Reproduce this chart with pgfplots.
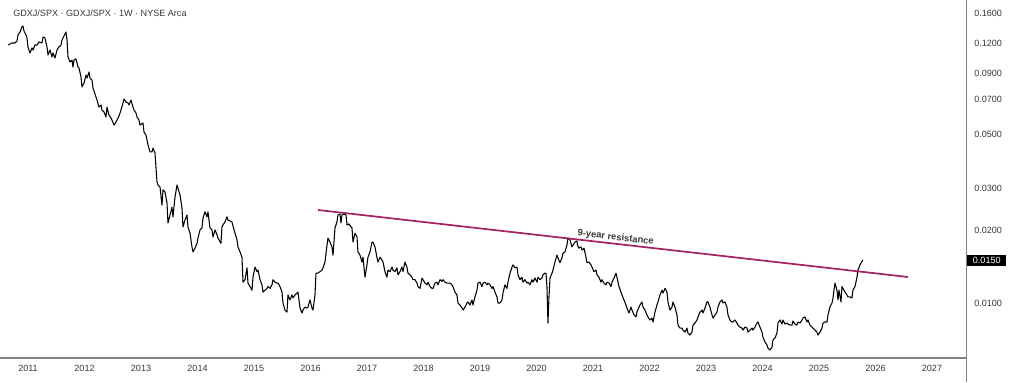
\documentclass[border=0pt]{standalone}
\usepackage{fontspec}
\setmainfont{Liberation Sans}
\usepackage{pgfplots}
\pgfplotsset{compat=1.18}
\definecolor{res}{RGB}{165,35,100}
\definecolor{txt}{RGB}{55,55,55}
\definecolor{axl}{RGB}{130,130,130}
\begin{document}
\begin{tikzpicture}
\begin{axis}[
  at={(0pt,18pt)}, anchor=south west,
  scale only axis, width=724.5pt, height=268.5pt,
  xmin=2010.504, xmax=2027.602,
  ymode=log, ymin=0.005911, ymax=0.18116,
  axis line style={draw=none},
  xtick={2011,2012,2013,2014,2015,2016,2017,2018,2019,2020,2021,2022,2023,2024,2025,2026,2027},
  xticklabels={2011,2012,2013,2014,2015,2016,2017,2018,2019,2020,2021,2022,2023,2024,2025,2026,2027},
  ytick={0.01,0.02,0.03,0.05,0.07,0.09,0.12,0.16},
  yticklabels={0.0100,0.0200,0.0300,0.0500,0.0700,0.0900,0.1200,0.1600},
  yticklabel pos=right,
  major tick length=0pt, minor tick length=0pt,
  /pgf/number format/assume math mode=true,
  tick label style={font=\fontsize{6.8}{8}\selectfont, text=txt},
  yticklabel style={anchor=west, inner sep=0pt, xshift=6pt},
  xticklabel style={anchor=north, inner sep=0pt, yshift=-5pt},
  clip=false,
]
\addplot[black, line width=0.8pt, line join=round] coordinates {
(2010.646,0.1178)(2010.716,0.1201)(2010.769,0.1201)(2010.805,0.1224)(2010.823,0.1297)(2010.858,0.1334)(2010.893,0.1400)(2010.911,0.1413)(2010.929,0.1347)(2010.964,0.1297)(2010.982,0.1260)(2010.999,0.1156)
(2011.035,0.1092)(2011.070,0.1145)(2011.088,0.1123)(2011.123,0.1178)(2011.159,0.1178)(2011.194,0.1213)(2011.247,0.1201)(2011.265,0.1272)(2011.300,0.1260)(2011.336,0.1156)(2011.354,0.1071)(2011.389,0.1123)(2011.424,0.1051)(2011.442,0.1092)(2011.477,0.1041)(2011.513,0.1123)(2011.548,0.1156)(2011.584,0.1178)(2011.601,0.1236)(2011.637,0.1285)(2011.672,0.1334)(2011.690,0.1236)(2011.708,0.1051)(2011.743,0.1001)(2011.778,0.1021)(2011.796,0.0955)(2011.814,0.1021)(2011.849,0.1031)(2011.885,0.0955)(2011.902,0.0946)(2011.938,0.0868)(2011.955,0.0789)(2011.991,0.0819)
(2012.026,0.0884)(2012.044,0.0859)(2012.079,0.0910)(2012.097,0.0859)(2012.132,0.0843)(2012.150,0.0781)(2012.203,0.0717)(2012.221,0.0696)(2012.256,0.0651)(2012.292,0.0664)(2012.309,0.0633)(2012.345,0.0621)(2012.380,0.0592)(2012.398,0.0651)(2012.433,0.0603)(2012.468,0.0586)(2012.486,0.0575)(2012.522,0.0548)(2012.557,0.0564)(2012.575,0.0575)(2012.610,0.0598)(2012.646,0.0633)(2012.681,0.0677)(2012.699,0.0703)(2012.734,0.0683)(2012.769,0.0677)(2012.787,0.0664)(2012.823,0.0696)(2012.858,0.0651)(2012.876,0.0633)(2012.911,0.0615)(2012.929,0.0592)(2012.964,0.0575)(2012.982,0.0548)
(2013.035,0.0559)(2013.053,0.0513)(2013.088,0.0498)(2013.124,0.0453)(2013.159,0.0424)(2013.194,0.0424)(2013.212,0.0440)(2013.247,0.0420)(2013.283,0.0318)(2013.300,0.0309)(2013.336,0.0303)(2013.371,0.0255)(2013.389,0.0295)(2013.424,0.0289)(2013.460,0.0260)(2013.477,0.0215)(2013.513,0.0232)(2013.548,0.0250)(2013.566,0.0228)(2013.601,0.0275)(2013.637,0.0309)(2013.654,0.0300)(2013.690,0.0281)(2013.725,0.0248)(2013.743,0.0207)(2013.778,0.0221)(2013.814,0.0232)(2013.831,0.0207)(2013.867,0.0195)(2013.902,0.0171)(2013.920,0.0163)(2013.955,0.0169)(2013.991,0.0177)
(2014.008,0.0186)(2014.044,0.0201)(2014.079,0.0205)(2014.097,0.0225)(2014.132,0.0239)(2014.168,0.0228)(2014.185,0.0239)(2014.221,0.0205)(2014.256,0.0201)(2014.274,0.0188)(2014.309,0.0201)(2014.345,0.0192)(2014.362,0.0186)(2014.415,0.0177)(2014.433,0.0207)(2014.451,0.0211)(2014.486,0.0217)(2014.522,0.0228)(2014.539,0.0221)(2014.575,0.0219)(2014.610,0.0217)(2014.628,0.0209)(2014.663,0.0195)(2014.699,0.0183)(2014.716,0.0171)(2014.752,0.0163)(2014.787,0.0155)(2014.805,0.0122)(2014.840,0.0125)(2014.876,0.0140)(2014.893,0.0121)(2014.929,0.0117)(2014.964,0.0113)(2014.982,0.0128)
(2015.017,0.0141)(2015.053,0.0135)(2015.071,0.0137)(2015.106,0.0125)(2015.141,0.0119)(2015.159,0.0111)(2015.194,0.0113)(2015.230,0.0115)(2015.248,0.0117)(2015.283,0.0115)(2015.318,0.0119)(2015.336,0.0125)(2015.371,0.0122)(2015.407,0.0121)(2015.424,0.0121)(2015.460,0.0117)(2015.495,0.0111)(2015.513,0.0100)(2015.548,0.00935)(2015.584,0.00917)(2015.601,0.0108)(2015.637,0.0103)(2015.672,0.0108)(2015.690,0.0105)(2015.725,0.0108)(2015.761,0.0110)(2015.778,0.0111)(2015.814,0.00953)(2015.849,0.00909)(2015.867,0.00935)(2015.902,0.00962)(2015.937,0.00953)(2015.955,0.00962)(2015.991,0.0103)
(2016.026,0.00953)(2016.044,0.00935)(2016.079,0.0108)(2016.097,0.0133)(2016.132,0.0133)(2016.168,0.0135)(2016.203,0.0137)(2016.221,0.0140)(2016.256,0.0148)(2016.292,0.0174)(2016.309,0.0186)(2016.345,0.0179)(2016.380,0.0171)(2016.398,0.0158)(2016.415,0.0179)(2016.433,0.0205)(2016.468,0.0217)(2016.486,0.0232)(2016.522,0.0234)(2016.539,0.0215)(2016.557,0.0232)(2016.592,0.0234)(2016.628,0.0232)(2016.646,0.0211)(2016.681,0.0213)(2016.716,0.0207)(2016.734,0.0205)(2016.752,0.0179)(2016.787,0.0195)(2016.823,0.0188)(2016.840,0.0163)(2016.876,0.0158)(2016.911,0.0148)(2016.929,0.0155)(2016.964,0.0128)(2016.999,0.0144)
(2017.017,0.0155)(2017.053,0.0163)(2017.088,0.0179)(2017.106,0.0179)(2017.141,0.0171)(2017.177,0.0154)(2017.194,0.0148)(2017.230,0.0155)(2017.265,0.0151)(2017.283,0.0148)(2017.318,0.0135)(2017.353,0.0128)(2017.371,0.0137)(2017.407,0.0135)(2017.442,0.0141)(2017.460,0.0137)(2017.495,0.0135)(2017.530,0.0140)(2017.548,0.0131)(2017.584,0.0135)(2017.619,0.0141)(2017.637,0.0135)(2017.672,0.0148)(2017.707,0.0141)(2017.725,0.0133)(2017.761,0.0131)(2017.796,0.0128)(2017.814,0.0125)(2017.849,0.0125)(2017.884,0.0121)(2017.902,0.0117)(2017.937,0.0115)(2017.973,0.0127)(2017.991,0.0125)
(2018.026,0.0121)(2018.061,0.0119)(2018.079,0.0122)(2018.115,0.0117)(2018.150,0.0115)(2018.168,0.0115)(2018.203,0.0121)(2018.238,0.0122)(2018.256,0.0119)(2018.292,0.0125)(2018.327,0.0123)(2018.345,0.0125)(2018.380,0.0122)(2018.415,0.0121)(2018.433,0.0121)(2018.469,0.0121)(2018.504,0.0119)(2018.522,0.0117)(2018.557,0.0111)(2018.592,0.0108)(2018.610,0.0100)(2018.645,0.00981)(2018.681,0.00953)(2018.699,0.00935)(2018.734,0.00962)(2018.769,0.0100)(2018.787,0.0101)(2018.822,0.00981)(2018.858,0.0103)(2018.876,0.00981)(2018.911,0.0106)(2018.946,0.0113)(2018.964,0.0121)(2018.999,0.0122)
(2019.035,0.0117)(2019.053,0.0121)(2019.088,0.0122)(2019.124,0.0119)(2019.141,0.0121)(2019.177,0.0119)(2019.212,0.0115)(2019.230,0.0117)(2019.265,0.0111)(2019.300,0.0106)(2019.318,0.0100)(2019.354,0.0100)(2019.389,0.0103)(2019.407,0.0110)(2019.442,0.0119)(2019.477,0.0115)(2019.495,0.0122)(2019.531,0.0133)(2019.566,0.0141)(2019.584,0.0144)(2019.619,0.0140)(2019.655,0.0141)(2019.672,0.0131)(2019.708,0.0125)(2019.743,0.0128)(2019.761,0.0122)(2019.796,0.0125)(2019.831,0.0121)(2019.849,0.0122)(2019.885,0.0119)(2019.920,0.0125)(2019.938,0.0122)(2019.973,0.0127)
(2020.008,0.0122)(2020.026,0.0128)(2020.062,0.0125)(2020.097,0.0127)(2020.115,0.0131)(2020.150,0.0133)(2020.168,0.0133)(2020.185,0.0117)(2020.203,0.00826)(2020.221,0.0106)(2020.239,0.0127)(2020.274,0.0133)(2020.292,0.0137)(2020.327,0.0148)(2020.362,0.0158)(2020.380,0.0154)(2020.415,0.0147)(2020.451,0.0154)(2020.469,0.0161)(2020.504,0.0163)(2020.539,0.0174)(2020.557,0.0186)(2020.592,0.0183)(2020.628,0.0171)(2020.646,0.0174)(2020.681,0.0179)(2020.716,0.0181)(2020.725,0.0174)(2020.752,0.0169)(2020.787,0.0171)(2020.805,0.0166)(2020.840,0.0169)(2020.876,0.0155)(2020.893,0.0147)(2020.929,0.0148)(2020.964,0.0144)(2020.982,0.0141)
(2021.017,0.0135)(2021.053,0.0137)(2021.070,0.0131)(2021.106,0.0128)(2021.141,0.0122)(2021.159,0.0125)(2021.194,0.0121)(2021.230,0.0119)(2021.248,0.0122)(2021.283,0.0121)(2021.318,0.0117)(2021.336,0.0122)(2021.371,0.0127)(2021.407,0.0133)(2021.424,0.0128)(2021.460,0.0117)(2021.495,0.0111)(2021.513,0.0108)(2021.548,0.0103)(2021.584,0.00981)(2021.601,0.00953)(2021.637,0.00909)(2021.672,0.00962)(2021.690,0.00935)(2021.725,0.00892)(2021.761,0.00875)(2021.778,0.00917)(2021.831,0.00981)(2021.867,0.0101)(2021.885,0.00962)(2021.920,0.00935)(2021.955,0.00892)(2021.973,0.00875)
(2022.008,0.00850)(2022.044,0.00866)(2022.062,0.00834)(2022.097,0.00917)(2022.132,0.00981)(2022.150,0.0101)(2022.185,0.0108)(2022.221,0.0113)(2022.239,0.0110)(2022.274,0.0115)(2022.309,0.0111)(2022.327,0.0101)(2022.362,0.00935)(2022.398,0.00962)(2022.415,0.0101)(2022.451,0.00962)(2022.486,0.00892)(2022.504,0.00810)(2022.539,0.00787)(2022.575,0.00787)(2022.592,0.00772)(2022.628,0.00757)(2022.663,0.00787)(2022.681,0.00750)(2022.716,0.00736)(2022.752,0.00757)(2022.769,0.00810)(2022.805,0.00826)(2022.840,0.00850)(2022.858,0.00875)(2022.893,0.00917)(2022.929,0.00935)(2022.946,0.00909)(2022.982,0.00953)
(2023.017,0.0101)(2023.035,0.0101)(2023.070,0.00962)(2023.106,0.00892)(2023.124,0.00866)(2023.159,0.00892)(2023.194,0.00917)(2023.212,0.00962)(2023.248,0.0101)(2023.283,0.0103)(2023.301,0.0100)(2023.336,0.0101)(2023.371,0.00962)(2023.389,0.00892)(2023.424,0.00850)(2023.460,0.00834)(2023.477,0.00834)(2023.513,0.00850)(2023.548,0.00826)(2023.566,0.00810)(2023.601,0.00795)(2023.637,0.00787)(2023.655,0.00772)(2023.690,0.00795)(2023.725,0.00787)(2023.743,0.00757)(2023.778,0.00772)(2023.814,0.00787)(2023.831,0.00772)(2023.867,0.00795)(2023.902,0.00826)(2023.920,0.00834)(2023.955,0.00795)(2023.991,0.00757)
(2024.008,0.00722)(2024.044,0.00689)(2024.079,0.00669)(2024.097,0.00650)(2024.132,0.00638)(2024.168,0.00656)(2024.185,0.00702)(2024.221,0.00716)(2024.256,0.00750)(2024.274,0.00826)(2024.309,0.00850)(2024.345,0.00818)(2024.362,0.00850)(2024.398,0.00818)(2024.433,0.00826)(2024.451,0.00818)(2024.486,0.00810)(2024.522,0.00810)(2024.539,0.00842)(2024.575,0.00818)(2024.610,0.00810)(2024.628,0.00834)(2024.663,0.00826)(2024.699,0.00850)(2024.716,0.00866)(2024.752,0.00875)(2024.787,0.00834)(2024.805,0.00850)(2024.840,0.00810)(2024.876,0.00795)(2024.893,0.00787)(2024.929,0.00772)(2024.964,0.00757)(2024.982,0.00736)
(2025.017,0.00757)(2025.053,0.00787)(2025.071,0.00826)(2025.106,0.00834)(2025.141,0.00834)(2025.159,0.00892)(2025.194,0.00962)(2025.230,0.0100)(2025.248,0.0105)(2025.265,0.0113)(2025.283,0.0121)(2025.318,0.0113)(2025.336,0.0103)(2025.354,0.0113)(2025.389,0.0101)(2025.407,0.0117)(2025.424,0.0115)(2025.460,0.0111)(2025.495,0.0108)(2025.513,0.0106)(2025.548,0.0106)(2025.584,0.0105)(2025.601,0.0113)(2025.637,0.0117)(2025.672,0.0128)(2025.690,0.0137)(2025.725,0.0144)(2025.778,0.0151)
};
\addplot[res, line width=1.3pt] coordinates {(2016.132,0.02433)(2026.575,0.01282)};
\node[rotate=-6.5, anchor=south, inner sep=1pt, font=\bfseries\fontsize{7}{8}\selectfont, text=txt] at (axis cs:2021.389,0.01763) {9-year resistance};
\node[anchor=west, fill=black, text=white, inner sep=0pt, minimum width=29.25pt, minimum height=8.25pt, font=\fontsize{6.8}{8}\selectfont, xshift=0.75pt] at (axis cs:2027.602,0.015) {0.0150};
\end{axis}
\draw[axl, line width=0.75pt] (724.5pt,0pt) -- (724.5pt,286.5pt);
\draw[axl, line width=0.9pt] (0pt,18pt) -- (724.5pt,18pt);
\node[anchor=west, inner sep=0pt, font=\fontsize{6.8}{8}\selectfont, text=txt] at (9.75pt,276.75pt) {GDXJ/SPX · GDXJ/SPX · 1W · NYSE Arca};
\pgfresetboundingbox
\useasboundingbox (0pt,0pt) rectangle (768pt,286.5pt);
\end{tikzpicture}
\end{document}
